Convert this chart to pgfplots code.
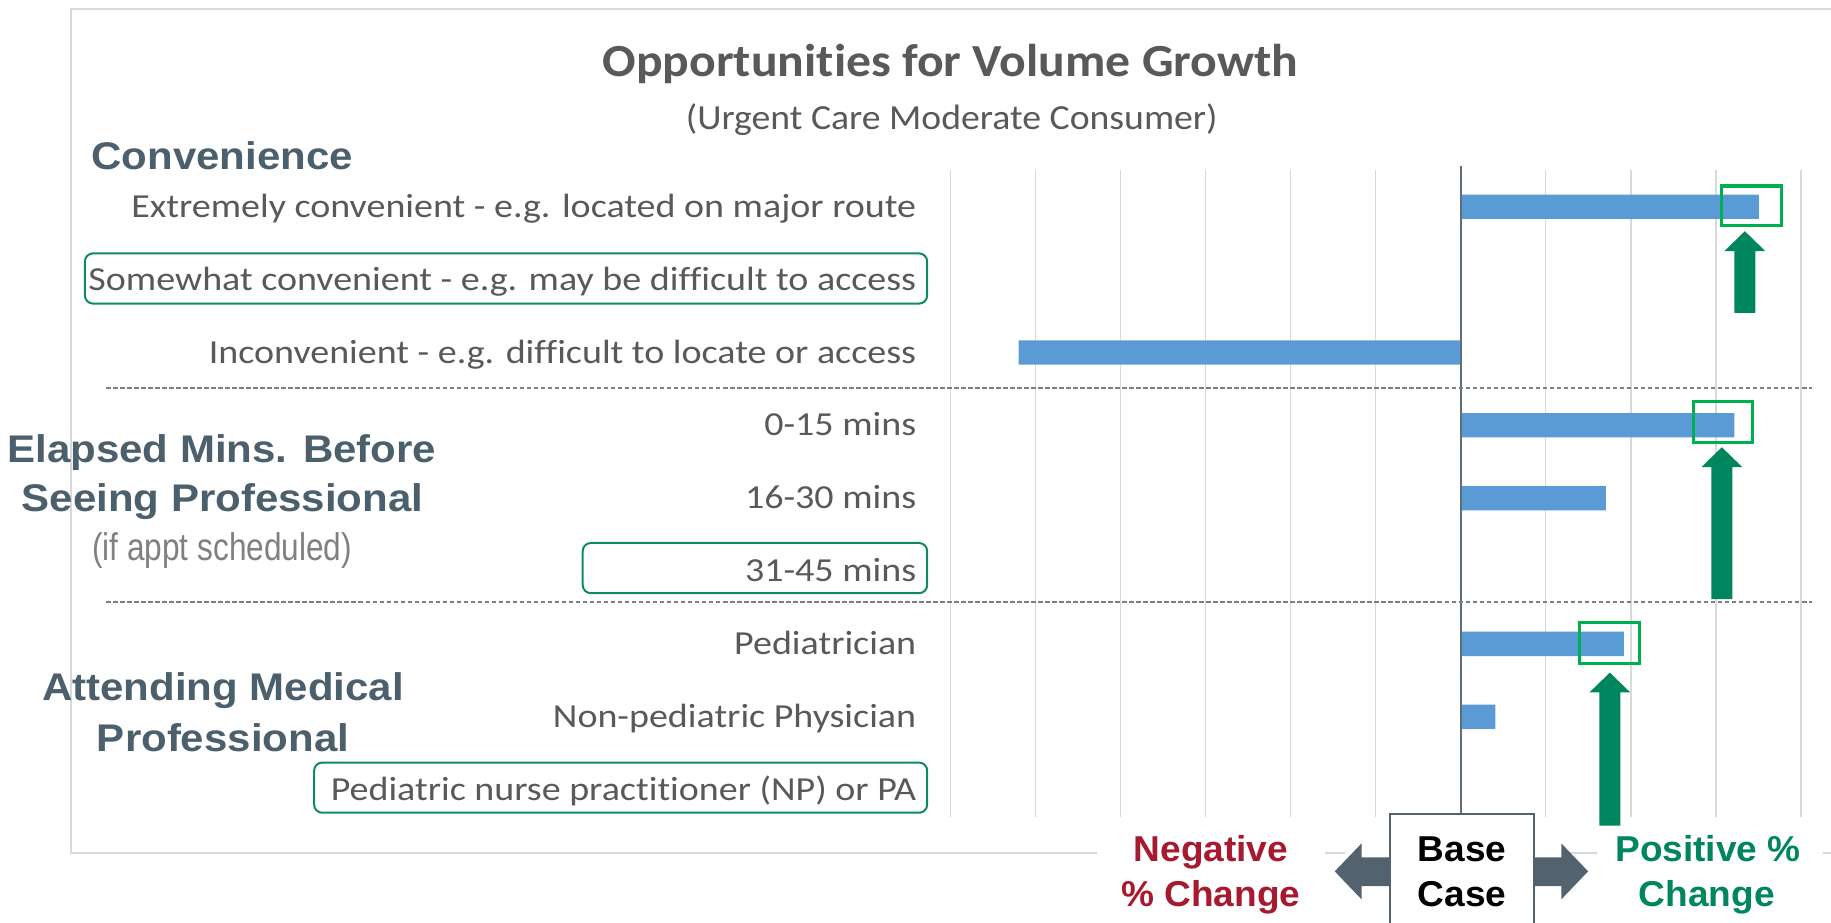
\documentclass[border=0pt]{standalone}
\usepackage{pgfplots}
\pgfplotsset{compat=1.18}
\usepackage{fontspec}
\setmainfont{Carlito}
\newfontfamily\labfont[FakeStretch=1.13, Ligatures=NoCommon]{Carlito}
\newfontfamily\titfont[FakeStretch=1.08, Ligatures=NoCommon]{Carlito}
\newfontfamily\subfont[FakeStretch=1.07, Ligatures=NoCommon]{Carlito}
\newfontfamily\grpfont[FakeStretch=1.09]{Liberation Sans}
\newfontfamily\notefont[FakeStretch=0.82]{Liberation Sans}
\newfontfamily\botfont[FakeStretch=1.03]{Liberation Sans}
\definecolor{txtgray}{HTML}{595959}
\definecolor{grpcol}{HTML}{4B5F6C}
\definecolor{notegray}{HTML}{808080}
\definecolor{barblue}{HTML}{5B9BD5}
\definecolor{gridgray}{HTML}{D9D9D9}
\definecolor{zerocol}{HTML}{5E6E7A}
\definecolor{dashgray}{HTML}{7F7F7F}
\definecolor{hlgreen}{HTML}{00B050}
\definecolor{arrgreen}{HTML}{00865F}
\definecolor{boxgreen}{HTML}{0E8A62}
\definecolor{negred}{HTML}{A6192E}
\definecolor{slate}{HTML}{52636F}
\begin{document}
\begin{tikzpicture}
\useasboundingbox (0pt,0pt) rectangle (784pt,-395pt);
\begin{scope}[x=0.5pt,y=-0.5pt]
\draw[gridgray, line width=0.9pt] (1568,8) -- (61,8) -- (61,730.5) -- (939,730.5);
\draw[gridgray, line width=0.9pt] (1135,730.5) -- (1152,730.5);
\draw[gridgray, line width=0.9pt] (1345,730.5) -- (1368,730.5);
\draw[gridgray, line width=0.9pt] (1561,730.5) -- (1568,730.5);
\end{scope}
\begin{axis}[
  at={(407pt,-349.95pt)}, anchor=south west,
  scale only axis, width=364pt, height=277.05pt,
  xmin=-6, xmax=4, ymin=-0.5, ymax=8.38, y dir=reverse,
  xtick={-6,...,4}, xticklabels={},
  ytick={0,...,8},
  yticklabels={Extremely convenient - e.g. located on major route,
    Somewhat convenient - e.g. may be difficult to access,
    Inconvenient - e.g. difficult to locate or access,
    0-15 mins, 16-30 mins, 31-45 mins,
    Pediatrician, Non-pediatric Physician,
    Pediatric nurse practitioner (NP) or PA},
  major tick length=0pt,
  axis line style={draw=none},
  xmajorgrids, grid style={gridgray, line width=0.75pt},
  yticklabel style={font=\fontsize{14.4}{16}\labfont, text=txtgray,
    anchor=base east, inner sep=0pt, xshift=-14.5pt, yshift=-4.55pt},
  clip=false]
\addplot[xbar, bar width=10.4pt, fill=barblue, draw=none] coordinates {
  (3.51,0) (0,1) (-5.20,2) (3.22,3) (1.71,4) (0,5) (1.92,6) (0.41,7) (0,8)};
\draw[zerocol, line width=0.9pt] (axis cs:0,-0.56) -- (axis cs:0,8.33);
\draw[hlgreen, line width=1.3pt] (axis cs:3.07,-0.284) rectangle (axis cs:3.77,0.252);
\draw[hlgreen, line width=1.3pt] (axis cs:2.74,2.676) rectangle (axis cs:3.43,3.237);
\draw[hlgreen, line width=1.3pt] (axis cs:1.40,5.705) rectangle (axis cs:2.10,6.266);
\end{axis}
\begin{scope}[x=0.5pt,y=-0.5pt]
% dashed separators
\draw[dashgray, line width=0.7pt, dash pattern=on 2pt off 1pt] (91,332.4) -- (1552,332.4);
\draw[dashgray, line width=0.7pt, dash pattern=on 2pt off 1pt] (91,515.3) -- (1552,515.3);
% green up arrows
\fill[arrgreen] (1485.2,268) -- (1485.2,215) -- (1476.7,215) -- (1494.2,198) -- (1511.7,215) -- (1503.2,215) -- (1503.2,268) -- cycle;
\fill[arrgreen] (1465.5,513) -- (1465.5,400) -- (1457,400) -- (1474.5,383) -- (1492,400) -- (1483.5,400) -- (1483.5,513) -- cycle;
\fill[arrgreen] (1369.6,707) -- (1369.6,593) -- (1361.1,593) -- (1378.6,576) -- (1396.1,593) -- (1387.6,593) -- (1387.6,707) -- cycle;
% label boxes
\draw[boxgreen, line width=0.85pt, rounded corners=3.5pt] (72.7,217) rectangle (794,260);
\draw[boxgreen, line width=0.85pt, rounded corners=3.5pt] (499,465) rectangle (794,508);
\draw[boxgreen, line width=0.85pt, rounded corners=3.5pt] (269,653) rectangle (794,696);
% titles
\node[anchor=base, text=txtgray, inner sep=0pt, font=\fontsize{19.7}{22}\titfont\bfseries] at (814,65.7) {Opportunities for Volume Growth};
\node[anchor=base, text=txtgray, inner sep=0pt, font=\fontsize{15.1}{18}\subfont] at (815,111.3) {(Urgent Care Moderate Consumer)};
% group labels
\begin{scope}[every node/.style={inner sep=0pt, text=grpcol, font=\fontsize{16.5}{19}\grpfont\bfseries}]
\node[anchor=base west] at (78,145) {Convenience};
\node[anchor=base] at (190,396.2) {Elapsed Mins. Before};
\node[anchor=base] at (190.5,438.2) {Seeing Professional};
\node[anchor=base] at (191,599.5) {Attending Medical};
\node[anchor=base] at (191,643.7) {Professional};
\end{scope}
\node[anchor=base west, inner sep=0pt, text=notegray, font=\fontsize{16.5}{19}\notefont] at (78.5,479.6) {(if appt scheduled)};
% base case
\fill[slate] (1143,746.2) -- (1166,722.2) -- (1166,734.2) -- (1337,734.2) -- (1337,722.2) -- (1360,746.2) -- (1337,770.2) -- (1337,758.8) -- (1166,758.8) -- (1166,770.2) -- cycle;
\fill[white] (1190,697) rectangle (1314,790);
\draw[slate, line width=0.9pt] (1190,790) -- (1190,697) -- (1314,697) -- (1314,790);
\begin{scope}[every node/.style={inner sep=0pt, anchor=base, font=\fontsize{15.4}{18}\botfont\bfseries}]
\node[text=black] at (1252,738) {Base};
\node[text=black] at (1252,776) {Case};
\node[text=negred] at (1037,738) {Negative};
\node[text=negred] at (1037,776) {\% Change};
\node[text=arrgreen] at (1462.7,738) {Positive \%};
\node[text=arrgreen] at (1461.6,776) {Change};
\end{scope}
\end{scope}
\end{tikzpicture}
\end{document}
